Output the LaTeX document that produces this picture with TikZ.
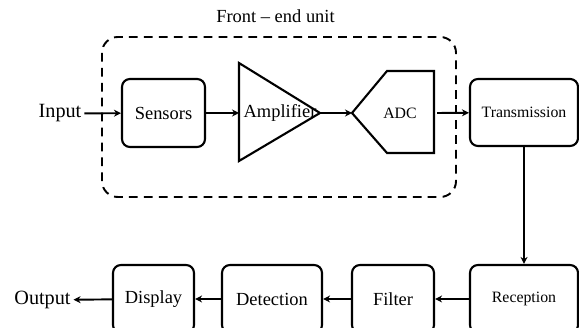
\documentclass[tikz,border=0pt]{standalone}
\usepackage{fontspec}
\setmainfont{Liberation Serif}
\usetikzlibrary{arrows.meta}

\begin{document}
\begin{tikzpicture}[
    block/.style={draw, line width=1.2pt, rounded corners=4.5pt, minimum height=1.36cm, inner sep=0pt, font=\fontsize{10.5}{12}\selectfont},
    smallblock/.style={block, font=\fontsize{9}{11}\selectfont},
    label/.style={inner sep=1.5pt, font=\fontsize{11.5}{13}\selectfont},
    flow/.style={line width=1.1pt, -{Stealth[length=4pt,width=4pt]}},
    ]
    % Fix the frame
    \useasboundingbox (0,0) rectangle (11.58,6.56);
    \clip (0,0) rectangle (11.58,6.56);

    % Define points
    \coordinate (A1) at (4.78,5.30);
    \coordinate (A2) at (4.78,3.34);
    \coordinate (A3) at (6.40,4.30);
    \coordinate (ampin) at (4.78,4.30);
    \coordinate (D1) at (7.04,4.30);
    \coordinate (D2) at (7.74,5.14);
    \coordinate (D3) at (8.68,5.14);
    \coordinate (D4) at (8.68,3.50);
    \coordinate (D5) at (7.74,3.50);
    \coordinate (adcout) at (8.74,4.30);

    % Front-end unit
    \draw [line width=1.1pt, dash pattern=on 5pt off 3.5pt, rounded corners=9pt] (2.04,2.62) rectangle (9.12,5.82);
    \node [font=\fontsize{10.5}{12}\selectfont] (front) at (5.51,6.24) {Front -- end unit};

    % Upper row
    \node [label] (input) at (1.20,4.29) {Input};
    \node [block, minimum width=1.66cm] (sensors) at (3.27,4.30) {Sensors};
    \draw [line width=1.2pt] (A1) -- (A3) -- (A2) -- cycle;
    \node [font=\fontsize{10.5}{12}\selectfont] (amp) at (5.60,4.30) {Amplifier};
    \draw [line width=1.2pt] (D1) -- (D2) -- (D3) -- (D4) -- (D5) -- cycle;
    \node [font=\fontsize{9}{11}\selectfont] (adc) at (8.00,4.30) {ADC};
    \node [smallblock, minimum width=2.16cm, minimum height=1.34cm] (trans) at (10.48,4.31) {Transmission};

    % Lower row
    \node [smallblock, minimum width=2.16cm] (recep) at (10.48,0.58) {Reception};
    \node [block, minimum width=1.64cm] (filter) at (7.86,0.58) {Filter};
    \node [block, minimum width=2.00cm] (detect) at (5.44,0.58) {Detection};
    \node [block, minimum width=1.62cm] (display) at (3.07,0.58) {Display};
    \node [label] (output) at (0.85,0.56) {Output};

    % Connections
    \draw [flow] (input) -- (sensors);
    \draw [flow] (sensors) -- (ampin);
    \draw [flow] (A3) -- (D1);
    \draw [flow] (adcout) -- (trans);
    \draw [line width=0.8pt, -{Stealth[length=4pt,width=4pt]}] (trans) -- (recep);
    \draw [flow] (recep) -- (filter);
    \draw [flow] (filter) -- (detect);
    \draw [flow] (detect) -- (display);
    \draw [flow] (display) -- (output);

\end{tikzpicture}
\end{document}
